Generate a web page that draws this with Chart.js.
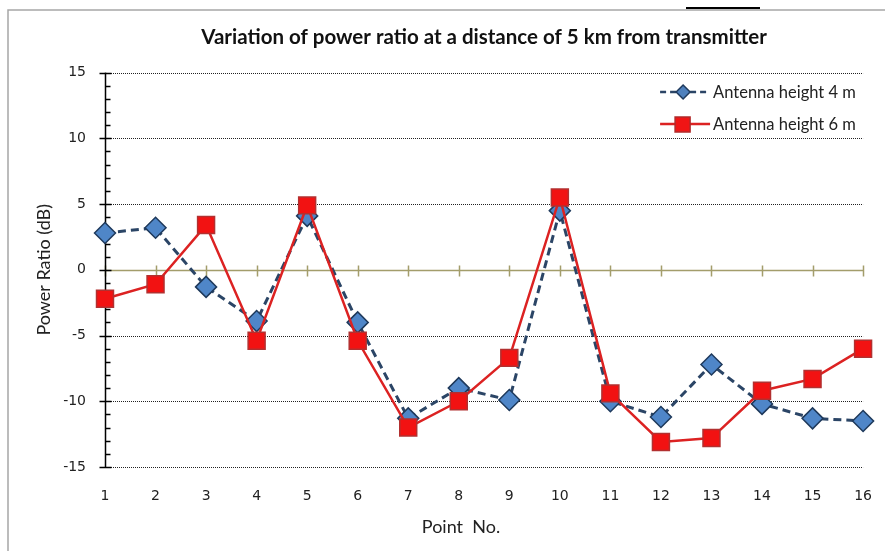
<!DOCTYPE html>
<html>
<head>
<meta charset="utf-8">
<script src="https://cdn.jsdelivr.net/npm/chart.js@4.4.0/dist/chart.umd.min.js"></script>
<style>
	html, body { margin: 0; padding: 0; background: #fff; }
	#wrap { width: 885px; height: 551px; }
</style>
</head>
<body>
<div id="wrap"><canvas id="powerRatio" width="885" height="551"></canvas></div>
<script>
// values
const pointNo = ['1', '2', '3', '4', '5', '6', '7', '8', '9', '10', '11', '12', '13', '14', '15', '16'];
const antenna4m = [2.8, 3.2, -1.3, -3.9, 4.1, -4.0, -11.3, -9.0, -9.9, 4.5, -10.0, -11.2, -7.2, -10.2, -11.3, -11.5];
const antenna6m = [-2.2, -1.1, 3.4, -5.4, 4.9, -5.4, -12.0, -10.0, -6.7, 5.5, -9.4, -13.1, -12.8, -9.2, -8.3, -6.0];
const yMin = -15;
const yMax = 15;
const yStep = 5;

const labelFont = '"Lato", "Open Sans", sans-serif';
const blueLine = '#2b4566';
const redLine = '#dc2222';

// axes, dotted grid, zero line, frame and legend, Excel style
const excelLook = {
	id: 'excelLook',
	beforeDatasetsDraw(chart) {
		const ctx = chart.ctx;
		const a = chart.chartArea;
		const x = chart.scales.x;
		const y = chart.scales.y;
		ctx.save();

		// frame of the picture
		ctx.strokeStyle = '#a6a6a6';
		ctx.lineWidth = 1.5;
		ctx.beginPath();
		ctx.moveTo(8, 551);
		ctx.lineTo(8, 10);
		ctx.lineTo(885, 10);
		ctx.stroke();
		ctx.strokeStyle = '#000';
		ctx.lineWidth = 2;
		ctx.beginPath();
		ctx.moveTo(686, 8);
		ctx.lineTo(760, 8);
		ctx.stroke();

		// dotted grid lines
		ctx.strokeStyle = '#222';
		ctx.lineWidth = 1;
		ctx.setLineDash([1, 1]);
		for (let v = yMin; v <= yMax; v += yStep) {
			if (v === 0) continue;
			const py = Math.round(y.getPixelForValue(v)) + 0.5;
			ctx.beginPath();
			ctx.moveTo(a.left, py);
			ctx.lineTo(a.right, py);
			ctx.stroke();
		}
		ctx.setLineDash([]);

		// zero line with category ticks
		const zy = Math.round(y.getPixelForValue(0)) + 0.5;
		ctx.strokeStyle = '#a39d6b';
		ctx.lineWidth = 1.5;
		ctx.beginPath();
		ctx.moveTo(a.left, zy);
		ctx.lineTo(a.right, zy);
		pointNo.forEach(function(item, i) {
			const px = Math.round(x.getPixelForValue(i)) + 0.5;
			ctx.moveTo(px, zy - 5);
			ctx.lineTo(px, zy + 6);
		});
		ctx.stroke();

		// y axis with major and minor ticks
		const ax = Math.round(a.left) + 0.5;
		ctx.strokeStyle = '#000';
		ctx.lineWidth = 1.5;
		ctx.beginPath();
		ctx.moveTo(ax, y.getPixelForValue(yMax));
		ctx.lineTo(ax, y.getPixelForValue(yMin));
		for (let v = yMin; v <= yMax; v++) {
			const py = Math.round(y.getPixelForValue(v)) + 0.5;
			if (v % yStep === 0) {
				ctx.moveTo(ax - 6, py);
				ctx.lineTo(ax + 6, py);
			} else {
				ctx.moveTo(ax, py);
				ctx.lineTo(ax + 5, py);
			}
		}
		ctx.stroke();
		ctx.restore();
	},
	afterDraw(chart) {
		const ctx = chart.ctx;
		const a = chart.chartArea;
		ctx.save();

		// x axis title
		ctx.fillStyle = '#222';
		ctx.font = '18px ' + labelFont;
		ctx.textAlign = 'center';
		ctx.textBaseline = 'middle';
		ctx.fillText('Point  No.', 461, 527);

		// legend
		const items = [
			{text: 'Antenna height 4 m', color: blueLine, dash: [6, 4], style: 'diamond'},
			{text: 'Antenna height 6 m', color: redLine, dash: [], style: 'square'}
		];
		ctx.textAlign = 'left';
		ctx.font = '16.5px ' + labelFont;
		items.forEach(function(item, i) {
			const ly = 92 + i * 32;
			const lx = a.right - 203;
			ctx.strokeStyle = item.color;
			ctx.lineWidth = 2.5;
			ctx.setLineDash(item.dash);
			ctx.beginPath();
			ctx.moveTo(lx, ly);
			ctx.lineTo(lx + 50, ly);
			ctx.stroke();
			ctx.setLineDash([]);
			ctx.lineWidth = 1.5;
			ctx.beginPath();
			if (item.style === 'diamond') {
				ctx.fillStyle = '#4f81bd';
				ctx.strokeStyle = '#1f3a5c';
				ctx.moveTo(lx + 23, ly - 7);
				ctx.lineTo(lx + 30, ly);
				ctx.lineTo(lx + 23, ly + 7);
				ctx.lineTo(lx + 16, ly);
				ctx.closePath();
			} else {
				ctx.fillStyle = '#f01515';
				ctx.strokeStyle = '#b02a2a';
				ctx.rect(lx + 15, ly - 7, 15, 15);
			}
			ctx.fill();
			ctx.stroke();
			ctx.fillStyle = '#222';
			ctx.fillText(item.text, lx + 53, ly + 1);
		});
		ctx.restore();
	}
};

const ctx = document.getElementById('powerRatio').getContext('2d');
const chart = new Chart(ctx, {
	type: 'line',
	data: {
		labels: pointNo,
		datasets: [
			{
				label: 'Antenna height 4 m',
				data: antenna4m,
				borderColor: blueLine,
				borderWidth: 3,
				borderDash: [8, 5],
				pointStyle: 'rectRot',
				pointRadius: 10.5,
				pointBackgroundColor: '#4f86c8',
				pointBorderColor: '#1f3a5c',
				pointBorderWidth: 1.5,
				lineTension: 0,
				order: 1
			},
			{
				label: 'Antenna height 6 m',
				data: antenna6m,
				borderColor: redLine,
				borderWidth: 2.5,
				pointStyle: 'rect',
				pointRadius: 12,
				pointBackgroundColor: '#f21212',
				pointBorderColor: '#b23030',
				pointBorderWidth: 1.5,
				lineTension: 0,
				order: 0
			}
		]
	},
	options: {
		responsive: false,
		animation: false,
		events: [],
		layout: {padding: {top: 10, left: 8, right: 18, bottom: 0}},
		plugins: {
			legend: {display: false},
			tooltip: {enabled: false},
			title: {
				display: true,
				fullSize: false,
				text: 'Variation of power ratio at a distance of 5 km from transmitter',
				color: '#111',
				font: {family: labelFont, size: 20.5, weight: 'bold'},
				padding: {top: 15, bottom: 23}
			}
		},
		scales: {
			x: {
				offset: false,
				grid: {display: false},
				border: {display: false},
				ticks: {color: '#222', padding: 13, font: {family: 'DejaVu Sans', size: 14}, maxRotation: 0, autoSkip: false},
				afterFit: function(scale) { scale.height = 84; }
			},
			y: {
				min: yMin,
				max: yMax,
				grid: {display: false},
				border: {display: false},
				ticks: {stepSize: yStep, color: '#222', padding: 11, font: {family: 'DejaVu Sans', size: 14}},
				title: {
					display: true,
					text: 'Power Ratio (dB)',
					color: '#222',
					font: {family: labelFont, size: 18},
					padding: {top: 25}
				},
				afterFit: function(scale) { scale.width = 97; }
			}
		}
	},
	plugins: [excelLook]
});
</script>
</body>
</html>
